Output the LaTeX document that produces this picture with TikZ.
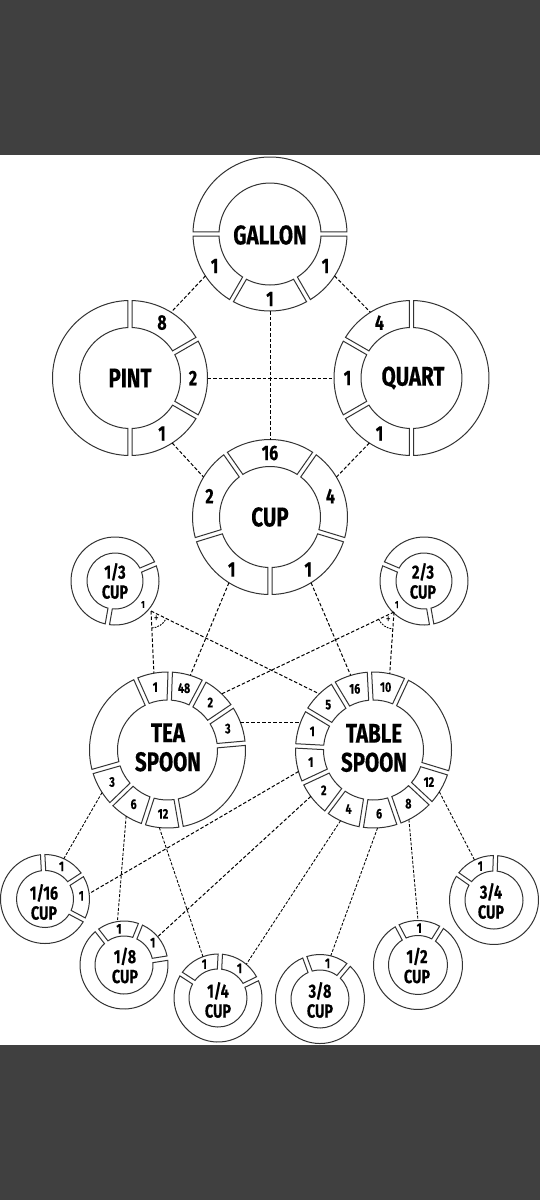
\documentclass[tikz,border=0pt]{standalone}
\usepackage{fontspec}
\newfontfamily\lab[FakeStretch=0.76,BoldFeatures={FakeBold=0.35}]{Fira Sans}
\usetikzlibrary{calc,angles}
\definecolor{barcol}{HTML}{404040}
\definecolor{ink}{HTML}{333333}
\def\gp{2.2}
\newcommand\seg[5]{%
  \pgfmathsetmacro\sA{#4+asin(\gp/#2)}%
  \pgfmathsetmacro\eA{#5-asin(\gp/#2)}%
  \pgfmathsetmacro\sB{#4+asin(\gp/#3)}%
  \pgfmathsetmacro\eB{#5-asin(\gp/#3)}%
  \draw[ringline] ($(#1)+(\sA:#2)$) arc[start angle=\sA,end angle=\eA,radius=#2pt]
     -- ($(#1)+(\eB:#3)$) arc[start angle=\eB,end angle=\sB,radius=#3pt] -- cycle;}
\newcommand\segs[4]{\foreach \a/\b in {#4}{\seg{#1}{#2}{#3}{\a}{\b}}}
\tikzset{
  ringline/.style={draw=ink,line width=1pt,fill=white},
  con/.style={draw=black,line width=1pt,dash pattern=on 3.5pt off 2pt},
  conthin/.style={draw=black,line width=0.85pt,dash pattern=on 3pt off 1.6pt},
  bigtxt/.style={font=\lab\bfseries\fontsize{27}{29}\selectfont,align=center,inner sep=0pt},
  num/.style={font=\lab\bfseries\fontsize{21}{21}\selectfont,inner sep=0pt},
  snum/.style={font=\lab\bfseries\fontsize{14}{14}\selectfont,inner sep=0pt},
  cuptxt/.style={font=\lab\bfseries\fontsize{19}{20}\selectfont,align=center,inner sep=0pt},
  tnum/.style={font=\lab\bfseries\fontsize{10}{10}\selectfont,inner sep=0pt},
  plustxt/.style={font=\lab\fontsize{13}{13}\selectfont,inner sep=0pt},
  plusmark/.style={draw=black,line width=0.9pt,dash pattern=on 1.8pt off 1.1pt,angle radius=17pt},
}
\begin{document}
\begin{tikzpicture}[x=1pt,y=1pt]
\useasboundingbox (0,0) rectangle (540,-1200);
\fill[barcol] (0,0) rectangle (540,-155);
\fill[white] (0,-155) rectangle (540,-1045);
\fill[barcol] (0,-1045) rectangle (540,-1200);

% centres
\coordinate (gal) at (270,-234);
\coordinate (pint) at (130,-378);
\coordinate (quart) at (411.5,-378);
\coordinate (cup) at (270,-517);
\coordinate (third) at (115,-581);
\coordinate (twothird) at (424,-581);
\coordinate (tsp) at (167.5,-750);
\coordinate (tbsp) at (373.5,-750);
\coordinate (c16) at (45,-899);
\coordinate (c8) at (124,-965);
\coordinate (c4) at (218,-998);
\coordinate (c38) at (320,-999);
\coordinate (c2) at (418,-965);
\coordinate (c34) at (494,-900);

% rings
\segs{gal}{77}{51}{0/180,180/240,240/300,300/360}
\segs{pint}{77.5}{50.5}{90/270,30/90,-30/30,-90/-30}
\segs{quart}{77.5}{50.5}{-90/90,90/150,150/210,210/270}
\segs{cup}{77.5}{50.5}{55/125,125/197,197/270,270/343,-17/55}
\segs{third}{44}{28}{23/260,-100/23}
\segs{twothird}{44}{28}{-80/157,157/280}
\segs{tsp}{78}{50}{5/34,34/62,62/88,88/114,114/196,196/224,224/252,252/280,280/365}
\segs{tbsp}{78}{50}{65/93,93/121,121/149,149/177,177/205,205/233,233/261,261/289,289/317,317/343,-17/65}
\segs{c16}{44.5}{28.5}{33/93,-28/33,93/332}
\segs{c8}{44}{29}{68/128,9/68,128/369}
\segs{c4}{44}{29}{87/147,26/87,147/386}
\segs{c38}{44.5}{29}{50/110,110/410}
\segs{c2}{44.5}{29.5}{58/118,118/418}
\segs{c34}{44.5}{29}{88/145,145/448}

% main texts
\node[bigtxt] (tgal) at (270,-235) {GALLON};
\node[bigtxt] (tpint) at (130,-378) {PINT};
\node[bigtxt] (tquart) at (413,-378) {QUART};
\node[bigtxt] (tcup) at (270,-517) {CUP};
\node[bigtxt] (ttsp) at (168,-747.5) {TEA\\SPOON};
\node[bigtxt] (ttbsp) at (374,-748) {TABLE\\SPOON};
\node[cuptxt] (tthird) at (115,-581) {1/3\\CUP};
\node[cuptxt] (ttwothird) at (423,-581) {2/3\\CUP};
\node[cuptxt] (tc16) at (44,-902) {1/16\\CUP};
\node[cuptxt] (tc8) at (125,-965.5) {1/8\\CUP};
\node[cuptxt] (tc4) at (218,-1000) {1/4\\CUP};
\node[cuptxt] (tc38) at (320,-1000) {3/8\\CUP};
\node[cuptxt] (tc2) at (417,-965.5) {1/2\\CUP};
\node[cuptxt] (tc34) at (491,-901) {3/4\\CUP};

% numbers in big rings
\node[num] (gal1) at ($(gal)+(210:64)$) {1};
\node[num] (gal2) at ($(gal)+(270:65)$) {1};
\node[num] (gal3) at ($(gal)+(330:64)$) {1};
\node[num] (pint1) at ($(pint)+(60:64)$) {8};
\node[num] (pint2) at ($(pint)+(0:63)$) {2};
\node[num] (pint3) at ($(pint)+(-60:64)$) {1};
\node[num] (quart1) at ($(quart)+(120:64)$) {4};
\node[num] (quart2) at ($(quart)+(180:64)$) {1};
\node[num] (quart3) at ($(quart)+(240:64)$) {1};
\node[num] (cup1) at ($(cup)+(90:64)$) {16};
\node[num] (cup2) at ($(cup)+(161:64)$) {2};
\node[num] (cup3) at ($(cup)+(234:65)$) {1};
\node[num] (cup4) at ($(cup)+(306:65)$) {1};
\node[num] (cup5) at ($(cup)+(19:64)$) {4};

% spoons
\node[snum] (tsp1) at ($(tsp)+(19.5:64)$) {3};
\node[snum] (tsp2) at ($(tsp)+(48:64)$) {2};
\node[snum] (tsp3) at ($(tsp)+(75:64)$) {48};
\node[snum] (tsp4) at ($(tsp)+(101:64)$) {1};
\node[snum] (tsp5) at ($(tsp)+(210:64)$) {3};
\node[snum] (tsp6) at ($(tsp)+(238:64)$) {6};
\node[snum] (tsp7) at ($(tsp)+(266:64)$) {12};
\node[snum] (tb1) at ($(tbsp)+(79:64)$) {10};
\node[snum] (tb2) at ($(tbsp)+(107:64)$) {16};
\node[snum] (tb3) at ($(tbsp)+(135:64)$) {5};
\node[snum] (tb4) at ($(tbsp)+(163:64)$) {1};
\node[snum] (tb5) at ($(tbsp)+(191:64)$) {1};
\node[snum] (tb6) at ($(tbsp)+(219:64)$) {2};
\node[snum] (tb7) at ($(tbsp)+(247:64)$) {4};
\node[snum] (tb8) at ($(tbsp)+(275:64)$) {6};
\node[snum] (tb9) at ($(tbsp)+(303:64)$) {8};
\node[snum] (tb10) at ($(tbsp)+(330:64)$) {12};

% small cups numbers
\node[tnum] (third1) at ($(third)+(-40:36.5)$) {1};
\node[tnum] (twothird1) at ($(twothird)+(221:36)$) {1};
\node[snum] (c16a) at ($(c16)+(63:36.5)$) {1};
\node[snum] (c16b) at ($(c16)+(5:36.5)$) {1};
\node[snum] (c8a) at ($(c8)+(98:36.5)$) {1};
\node[snum] (c8b) at ($(c8)+(38:36.5)$) {1};
\node[snum] (c4a) at ($(c4)+(112:36.5)$) {1};
\node[snum] (c4b) at ($(c4)+(54:36.5)$) {1};
\node[snum] (c38a) at ($(c38)+(78:36.5)$) {1};
\node[snum] (c2a) at ($(c2)+(88:37)$) {1};
\node[snum] (c34a) at ($(c34)+(112:36.5)$) {1};

% connector end points
\coordinate (galA) at ($(gal)+(213:77)$);
\coordinate (galB) at ($(gal)+(327:77)$);
\coordinate (galC) at ($(gal)+(270:77)$);
\coordinate (pintA) at ($(pint)+(58:77.5)$);
\coordinate (pintB) at ($(pint)+(0:77.5)$);
\coordinate (pintC) at ($(pint)+(-57:77.5)$);
\coordinate (quartA) at ($(quart)+(122:77.5)$);
\coordinate (quartB) at ($(quart)+(180:77.5)$);
\coordinate (quartC) at ($(quart)+(237:77.5)$);
\coordinate (cupA) at ($(cup)+(90:77.5)$);
\coordinate (cupB) at ($(cup)+(149:77.5)$);
\coordinate (cupC) at ($(cup)+(31:77.5)$);
\coordinate (cupD) at ($(cup)+(238:77.5)$);
\coordinate (cupE) at ($(cup)+(302:77.5)$);
\coordinate (J1) at (151,-611);
\coordinate (J2) at (394,-612);
\coordinate (tspA) at ($(tsp)+(73:78)$);
\coordinate (tspB) at ($(tsp)+(100:78)$);
\coordinate (tspC) at ($(tsp)+(46:78)$);
\coordinate (tspD) at ($(tsp)+(20.7:78)$);
\coordinate (tspE) at ($(tsp)+(213:78)$);
\coordinate (tspF) at ($(tsp)+(238:78)$);
\coordinate (tspG) at ($(tsp)+(264:78)$);
\coordinate (tbA) at ($(tbsp)+(107:78)$);
\coordinate (tbB) at ($(tbsp)+(134:78)$);
\coordinate (tbC) at ($(tbsp)+(78:78)$);
\coordinate (tbD) at ($(tbsp)+(159.3:78)$);
\coordinate (tbE) at ($(tbsp)+(196:78)$);
\coordinate (tbF) at ($(tbsp)+(216.5:78)$);
\coordinate (tbG) at ($(tbsp)+(245:78)$);
\coordinate (tbH) at ($(tbsp)+(273:78)$);
\coordinate (tbI) at ($(tbsp)+(297:78)$);
\coordinate (tbJ) at ($(tbsp)+(327.6:78)$);
\coordinate (c16A) at ($(c16)+(65:44.5)$);
\coordinate (c16B) at ($(c16)+(7:44.5)$);
\coordinate (c8A) at ($(c8)+(98.6:44)$);
\coordinate (c8B) at ($(c8)+(40:44)$);
\coordinate (c4A) at ($(c4)+(110:44)$);
\coordinate (c4B) at ($(c4)+(50:44)$);
\coordinate (c38A) at ($(c38)+(76:44.5)$);
\coordinate (c2A) at ($(c2)+(90:44.5)$);
\coordinate (c34A) at ($(c34)+(116:44.5)$);

% connectors
\draw[con] (galA) -- (pintA);
\draw[con] (galB) -- (quartA);
\draw[con] (galC) -- (cupA);
\draw[con] (pintB) -- (quartB);
\draw[con] (pintC) -- (cupB);
\draw[con] (quartC) -- (cupC);
\draw[con] (cupD) -- (tspA);
\draw[con] (cupE) -- (tbA);
\draw[con] (J1) -- (tspB);
\draw[con] (J1) -- (tbB);
\draw[con] (J2) -- (tbC);
\draw[con] (J2) -- (tspC);
\draw[con] (tspD) -- (tbD);
\draw[conthin] (tspE) -- (c16A);
\draw[conthin] (tspF) -- (c8A);
\draw[conthin] (tspG) -- (c4A);
\draw[con] (tbE) -- (c16B);
\draw[con] (tbF) -- (c8B);
\draw[conthin] (tbG) -- (c4B);
\draw[conthin] (tbH) -- (c38A);
\draw[conthin] (tbI) -- (c2A);
\draw[conthin] (tbJ) -- (c34A);

% plus markers
\pic[plusmark] {angle=tspB--J1--tbB};
\pic[plusmark] {angle=tspC--J2--tbC};
\node[plustxt] (plus1) at ($(J1)+(-57:10)$) {+};
\node[plustxt] (plus2) at ($(J2)+(236:10)$) {+};
\end{tikzpicture}
\end{document}
